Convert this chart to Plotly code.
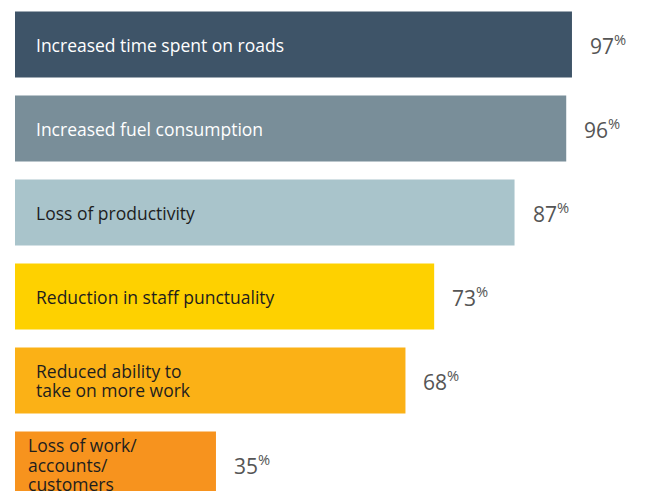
import plotly.graph_objects as go

categories = [
    "Increased time spent on roads",
    "Increased fuel consumption",
    "Loss of productivity",
    "Reduction in staff punctuality",
    "Reduced ability to<br>take on more work",
    "Loss of work/<br>accounts/<br>customers",
]
values = [97, 96, 87, 73, 68, 35]
bar_colors = ["#3e5468", "#798e99", "#a9c4cb", "#fed100", "#fbb116", "#f7931e"]
label_colors = ["#ffffff", "#ffffff", "#1e1e1e", "#1e1e1e", "#1e1e1e", "#1e1e1e"]

ypos = list(range(len(values)))

fig = go.Figure()
fig.add_trace(go.Bar(
    x=values, y=ypos, orientation="h",
    marker=dict(color=bar_colors, line=dict(width=0)),
    hoverinfo="skip",
))

FONT = "Open Sans"
LINE = 19.5
for i, (cat, v) in enumerate(zip(categories, values)):
    lines = cat.split("<br>")
    n = len(lines)
    for j, ln in enumerate(lines):
        fig.add_annotation(
            x=0, y=i, xref="x", yref="y", text=ln, showarrow=False,
            xanchor="left", yanchor="middle", xshift=11 if i == 5 else 19,
            yshift=-(j - (n - 1) / 2) * LINE,
            align="left",
            font=dict(family=FONT, size=17.5, color=label_colors[i]),
        )
    fig.add_annotation(
        x=v, y=i, xref="x", yref="y",
        text=f"{v}<sup>%</sup>",
        showarrow=False, xanchor="left", yanchor="middle", xshift=16,
        font=dict(family=FONT, size=21, color="#555555"),
    )

fig.update_layout(
    width=649, height=491,
    margin=dict(l=15, r=0, t=0, b=0),
    paper_bgcolor="white", plot_bgcolor="white",
    showlegend=False, bargap=0.214,
    xaxis=dict(range=[0, 634 / 5.742], visible=False, fixedrange=True),
    yaxis=dict(range=[(491 - 44.5) / 84, -44.5 / 84], visible=False, fixedrange=True),
)

fig.write_html("out.html", config={"displayModeBar": False})
